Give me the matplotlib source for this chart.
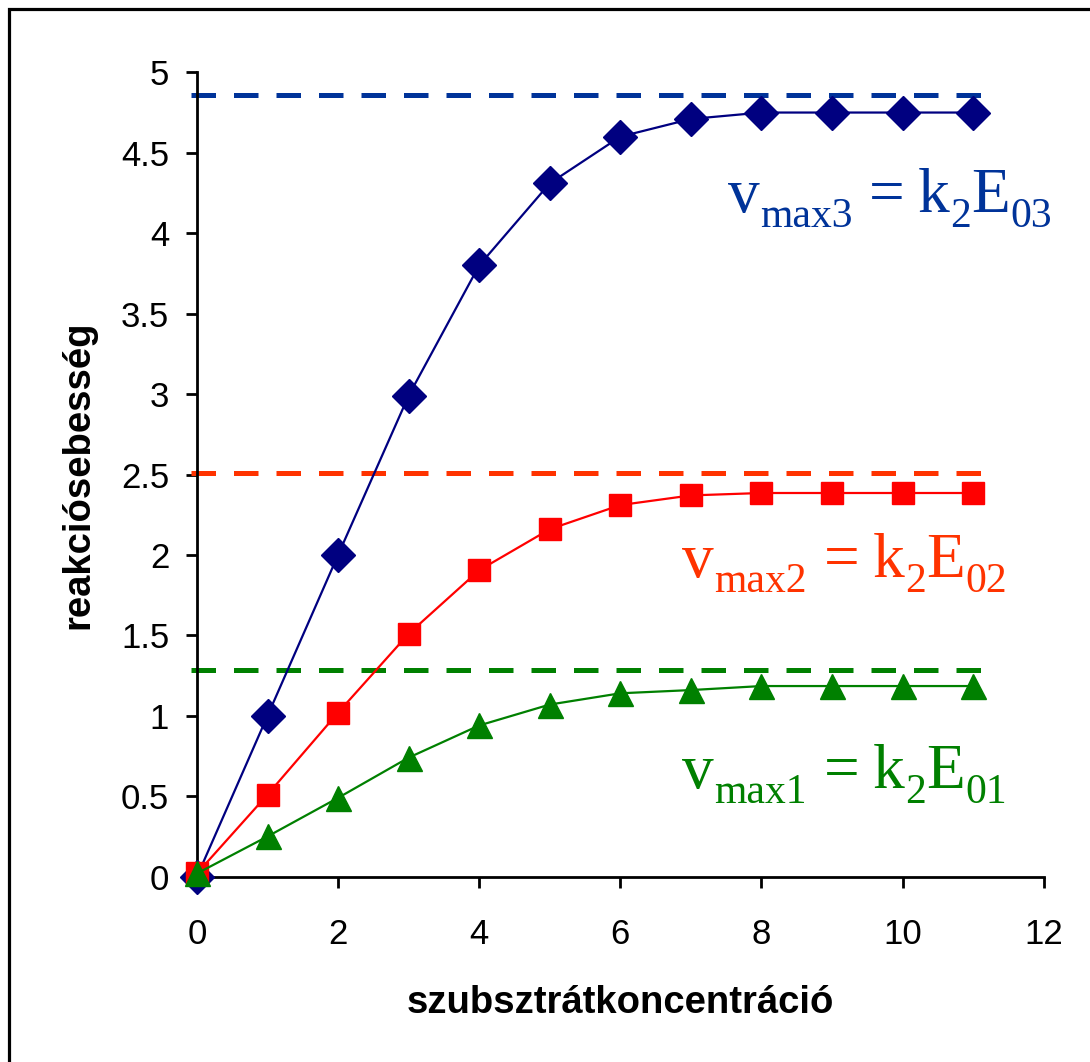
import matplotlib
matplotlib.use("Agg")
import matplotlib.pyplot as plt
from matplotlib.patches import Rectangle

plt.rcParams['font.family'] = ['Liberation Sans', 'DejaVu Sans']

# data
conc = [0, 1, 2, 3, 4, 5, 6, 7, 8, 9, 10, 11]
v3 = [0.0, 1.0, 2.0, 2.99, 3.80, 4.31, 4.60, 4.71, 4.75, 4.75, 4.75, 4.75]
v2 = [0.02, 0.51, 1.02, 1.51, 1.905, 2.16, 2.31, 2.37, 2.385, 2.385, 2.385, 2.385]
v1 = [0.02, 0.25, 0.49, 0.74, 0.94, 1.07, 1.14, 1.16, 1.185, 1.185, 1.185, 1.185]
vmax_levels = [4.86, 2.507, 1.287]
dash_x = [-0.09, 11.12]
# label pieces: (text, is_subscript)
label_pieces = [
    [("v", False), ("max3", True), ("=", False), ("k", False), ("2", True), ("E", False), ("03", True)],
    [("v", False), ("max2", True), ("=", False), ("k", False), ("2", True), ("E", False), ("02", True)],
    [("v", False), ("max1", True), ("=", False), ("k", False), ("2", True), ("E", False), ("01", True)],
]
label_pos = [(7.52, 4.13), (6.88, 1.86), (6.88, 0.55)]
xticks = [0, 2, 4, 6, 8, 10, 12]
yticks = [0, 0.5, 1, 1.5, 2, 2.5, 3, 3.5, 4, 4.5, 5]
ytick_labels = ['0', '0.5', '1', '1.5', '2', '2.5', '3', '3.5', '4', '4.5', '5']

dash_colors = ['#003399', '#FF3300', '#008000']

DPI = 100
fig = plt.figure(figsize=(10.9, 10.62), dpi=DPI)
ax = fig.add_axes([0.1807, 0.1745, 0.9575 - 0.1807, 0.9319 - 0.1745])

# dashed vmax lines
for lvl, c in zip(vmax_levels, dash_colors):
    ax.plot(dash_x, [lvl, lvl], color=c, lw=3.6, dashes=(4.9, 3.6),
            solid_capstyle='butt', dash_capstyle='butt', clip_on=False, zorder=2)

ax.plot(conc, v3, color='#000080', lw=1.6, marker='D', markersize=17,
        markerfacecolor='#000080', markeredgecolor='#000080', clip_on=False, zorder=3)
ax.plot(conc, v2, color='#FF0000', lw=1.6, marker='s', markersize=16,
        markerfacecolor='#FF0000', markeredgecolor='#FF0000', clip_on=False, zorder=4)
ax.plot(conc, v1, color='#008000', lw=1.6, marker='^', markersize=18,
        markerfacecolor='#008000', markeredgecolor='#008000', clip_on=False, zorder=5)

ax.set_xlim(0, 12)
ax.set_ylim(0, 5)
ax.set_xticks(xticks)
ax.set_xticklabels([str(t) for t in xticks])
ax.set_yticks(yticks)
ax.set_yticklabels(ytick_labels)

for s in ['top', 'right']:
    ax.spines[s].set_visible(False)
for s in ['left', 'bottom']:
    ax.spines[s].set_linewidth(2)
ax.tick_params(axis='both', direction='out', length=8, width=2, labelsize=25)
ax.tick_params(axis='x', pad=22)
ax.tick_params(axis='y', pad=12)

ax.set_xlabel('szubsztrátkoncentráció', fontsize=27.5, fontweight='bold', labelpad=24)
ax.set_ylabel('reakciósebesség', fontsize=27.5, fontweight='bold', labelpad=18)

# composed v_max labels (Times-like serif with lowered subscripts)
renderer = fig.canvas.get_renderer()
MAIN = 45.6
SUB = 30
SUB_DROP = 15  # px
px2pt = 72.0 / DPI
for pieces, (lx, ly), c in zip(label_pieces, label_pos, dash_colors):
    off = 0.0
    for txt, sub in pieces:
        t = ax.annotate(txt, xy=(lx, ly), xycoords='data',
                        xytext=(off * px2pt, (-SUB_DROP if sub else 0) * px2pt),
                        textcoords='offset points', fontsize=SUB if sub else MAIN,
                        family='Liberation Serif', color=c, ha='left', va='baseline',
                        annotation_clip=False)
        bb = t.get_window_extent(renderer)
        off += bb.width
        if txt.startswith("max"):
            off += 17
        elif txt == "=":
            off += 13
        else:
            off += 0.5

# frame around figure (top and left visible)
fig.patches.append(Rectangle((8.5 / 1090, -0.1), 1.2, 1.1 - 9.5 / 1062,
                             transform=fig.transFigure, fill=False, lw=2.3,
                             edgecolor='black'))

fig.savefig('out.png', dpi=DPI)
